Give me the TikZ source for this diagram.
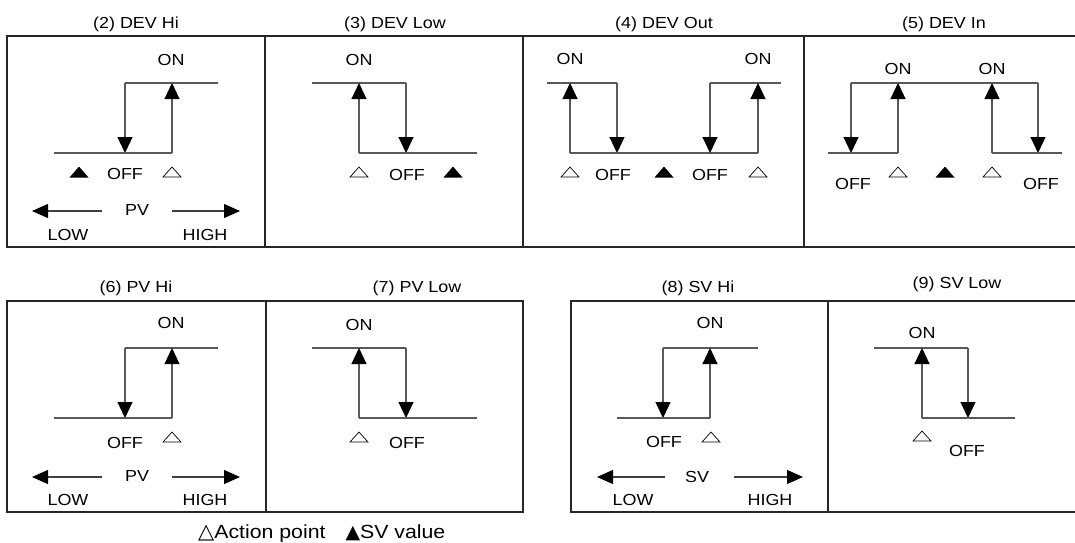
\documentclass[tikz,border=0pt]{standalone}
\usepackage{fontspec}
\setmainfont{Liberation Sans}[FakeStretch=1.12]
\newfontfamily\symfont{DejaVu Sans}
\usetikzlibrary{arrows.meta}
\tikzset{
  frame/.style={line width=1.2pt, draw=black!85},
  stepline/.style={line width=1.1pt, draw=black!65},
  arr/.style={stepline, -{Triangle[length=16pt,width=15pt,color=black]}},
  harr/.style={line width=1.1pt, draw=black!75, -{Triangle[length=16pt,width=14pt,color=black]}},
  lbl/.style={font=\fontsize{16}{18}\selectfont, inner sep=0pt},
  ttl/.style={font=\fontsize{16}{18}\selectfont, inner sep=0pt},
  soltri/.pic={\fill[black] (-9.5,5.5) -- (9.5,5.5) -- (0,-5.5) -- cycle;},
  opntri/.pic={\draw[line width=0.7pt, black] (-9,5) -- (9,5) -- (0,-5) -- cycle;}
}
\begin{document}
\begin{tikzpicture}[x=1pt,y=-1pt]
\useasboundingbox (0,0) rectangle (1075,542);
% ---------- frames ----------
\draw[frame] (1075,36) -- (7,36) -- (7,247) -- (1075,247);
\draw[frame] (265,36) -- (265,247);
\draw[frame] (523,36) -- (523,247);
\draw[frame] (804,36) -- (804,247);
\draw[frame] (7,301) rectangle (523,512);
\draw[frame] (266,301) -- (266,512);
\draw[frame] (1075,301) -- (571,301) -- (571,512) -- (1075,512);
\draw[frame] (828,301) -- (828,512);
% ---------- titles ----------
\node[ttl] (t2) at (136,24) {(2) DEV Hi};
\node[ttl] (t3) at (395,24) {(3) DEV Low};
\node[ttl] (t4) at (664,24) {(4) DEV Out};
\node[ttl] (t5) at (944,24) {(5) DEV In};
\node[ttl] (t6) at (136,288) {(6) PV Hi};
\node[ttl] (t7) at (417,288) {(7) PV Low};
\node[ttl] (t8) at (698,288) {(8) SV Hi};
\node[ttl] (t9) at (957,284) {(9) SV Low};
% ---------- (2) DEV Hi ----------
\node[lbl] (on2) at (171,60) {ON};
\draw[stepline] (218,83) -- (125,83);
\draw[arr] (125,83) -- (125,153);
\draw[stepline] (54,153) -- (172,153);
\draw[arr] (172,153) -- (172,83);
\pic at (79,172) {soltri};
\node[lbl] (off2) at (125,174) {OFF};
\pic at (172,172) {opntri};
\node[lbl] (pv2) at (137,210) {PV};
\draw[harr] (102,211) -- (32,211);
\draw[harr] (172,211) -- (240,211);
\node[lbl] (low2) at (68,235) {LOW};
\node[lbl] (high2) at (205,235) {HIGH};
% ---------- (3) DEV Low ----------
\node[lbl] (on3) at (359,60) {ON};
\draw[stepline] (312,83) -- (406,83);
\draw[arr] (406,83) -- (406,153);
\draw[stepline] (477,153) -- (359,153);
\draw[arr] (359,153) -- (359,83);
\pic at (359,172) {opntri};
\node[lbl] (off3) at (407,175) {OFF};
\pic at (453,172) {soltri};
% ---------- (4) DEV Out ----------
\node[lbl] (on4a) at (570,59) {ON};
\node[lbl] (on4b) at (758,59) {ON};
\draw[stepline] (547,83) -- (617,83);
\draw[arr] (617,83) -- (617,153);
\draw[stepline] (570,153) -- (758,153);
\draw[arr] (570,153) -- (570,83);
\draw[stepline] (781,83) -- (710,83);
\draw[arr] (710,83) -- (710,153);
\draw[arr] (758,153) -- (758,83);
\pic at (570,172) {opntri};
\node[lbl] (off4a) at (613,175) {OFF};
\pic at (664,172) {soltri};
\node[lbl] (off4b) at (710,175) {OFF};
\pic at (758,172) {opntri};
% ---------- (5) DEV In ----------
\node[lbl] (on5a) at (898,69) {ON};
\node[lbl] (on5b) at (992,69) {ON};
\draw[stepline] (851,83) -- (1038,83);
\draw[arr] (851,83) -- (851,153);
\draw[arr] (1038,83) -- (1038,153);
\draw[stepline] (828,153) -- (898,153);
\draw[arr] (898,153) -- (898,83);
\draw[stepline] (1062,153) -- (992,153);
\draw[arr] (992,153) -- (992,83);
\pic at (898,172) {opntri};
\pic at (945,172) {soltri};
\pic at (992,172) {opntri};
\node[lbl] (off5a) at (853,184) {OFF};
\node[lbl] (off5b) at (1041,184) {OFF};
% ---------- (6) PV Hi ----------
\node[lbl] (on6) at (171,323) {ON};
\draw[stepline] (218,348) -- (125,348);
\draw[arr] (125,348) -- (125,418);
\draw[stepline] (54,418) -- (172,418);
\draw[arr] (172,418) -- (172,348);
\node[lbl] (off6) at (125,443) {OFF};
\pic at (172,437) {opntri};
\node[lbl] (pv6) at (137,476) {PV};
\draw[harr] (102,477) -- (32,477);
\draw[harr] (172,477) -- (240,477);
\node[lbl] (low6) at (68,500) {LOW};
\node[lbl] (high6) at (205,500) {HIGH};
% ---------- (7) PV Low ----------
\node[lbl] (on7) at (359,325) {ON};
\draw[stepline] (312,348) -- (406,348);
\draw[arr] (406,348) -- (406,418);
\draw[stepline] (477,418) -- (359,418);
\draw[arr] (359,418) -- (359,348);
\pic at (359,437) {opntri};
\node[lbl] (off7) at (407,443) {OFF};
% ---------- (8) SV Hi ----------
\node[lbl] (on8) at (710,323) {ON};
\draw[stepline] (758,348) -- (663,348);
\draw[arr] (663,348) -- (663,418);
\draw[stepline] (617,418) -- (710,418);
\draw[arr] (710,418) -- (710,348);
\node[lbl] (off8) at (664,442) {OFF};
\pic at (711,437) {opntri};
\node[lbl] (sv8) at (697,477) {SV};
\draw[harr] (665,477) -- (597,477);
\draw[harr] (734,477) -- (803,477);
\node[lbl] (low8) at (633,500) {LOW};
\node[lbl] (high8) at (770,500) {HIGH};
% ---------- (9) SV Low ----------
\node[lbl] (on9) at (922,333) {ON};
\draw[stepline] (874,348) -- (968,348);
\draw[arr] (968,348) -- (968,418);
\draw[stepline] (1015,418) -- (922,418);
\draw[arr] (922,418) -- (922,348);
\pic at (922,436) {opntri};
\node[lbl] (off9) at (967,451) {OFF};
% ---------- legend ----------
\node[anchor=base west, inner sep=0pt, font=\fontsize{19}{21}\selectfont] (legend) at (198,538)
  {{\symfont\fontsize{21}{23}\selectfont △}Action point\hspace{20pt}{\symfont\fontsize{19}{21}\selectfont ▲}SV value};
\end{tikzpicture}
\end{document}
